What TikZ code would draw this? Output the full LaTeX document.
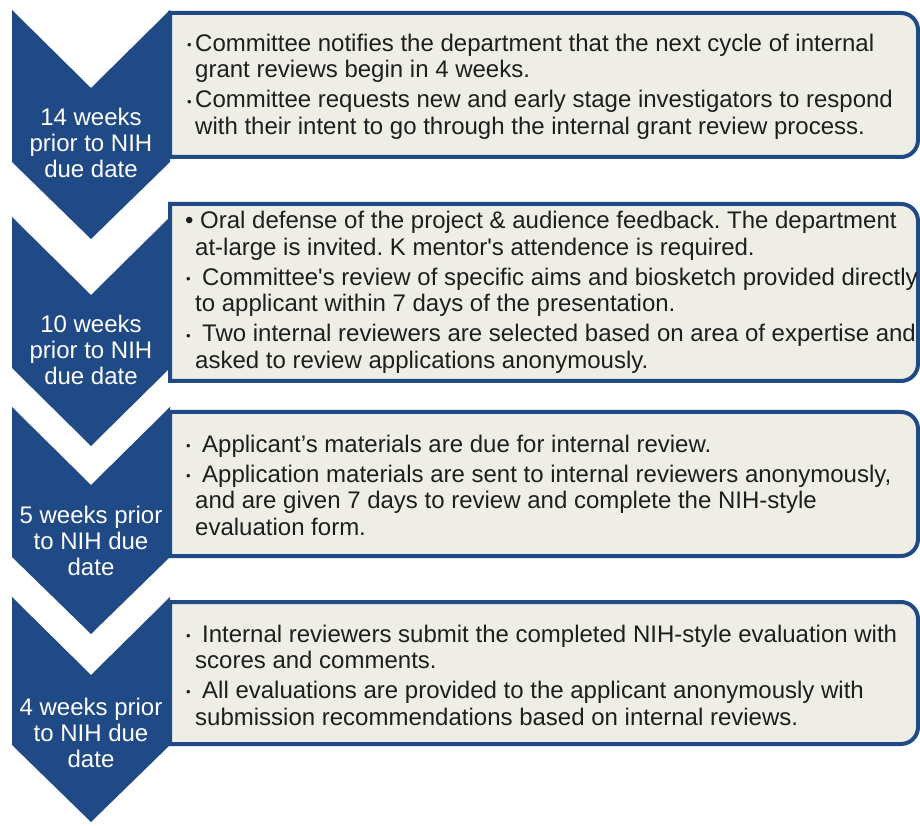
\documentclass[tikz,border=0pt]{standalone}
\usepackage{fontspec}
\setmainfont{Liberation Sans}

\definecolor{navyblue}{RGB}{31,74,134}
\definecolor{cardfill}{RGB}{239,238,230}
\definecolor{inkdark}{RGB}{30,30,30}

% bullets: a large one, a small dot followed by a space, and a tight small dot
\newcommand{\smalldot}{\raisebox{1.6pt}{\fontsize{13}{13}\selectfont\char"2022}}
\newcommand{\bigbul}{\llap{\char"2022\hspace{1.8pt}}\hspace*{5pt}}
\newcommand{\dotsp}{\llap{\smalldot\hspace{4.5pt}}\hspace*{7pt}}
\newcommand{\dottight}{\llap{\smalldot\hspace{3.5pt}}}

\begin{document}
\frenchspacing
\begin{tikzpicture}[x=1pt,y=1pt,
  chev/.style={fill=navyblue},
  card/.style={draw=navyblue, line width=4pt, fill=cardfill, line join=miter},
  steplabel/.style={text=white, align=center, inner sep=0pt,
    font=\fontsize{24}{26}\selectfont},
  notes/.style={anchor=west, align=left, inner sep=0pt, text=inkdark,
    font=\fontsize{24}{26.5}\selectfont}]
\useasboundingbox (0,0) rectangle (920,825);

% cards: square on the left, rounded on the right
\newcommand{\cardpath}[2]{%
  \path[card] (170,#1) -- (901,#1) arc[start angle=90,end angle=0,radius=17pt]
    -- (918,#2+17) arc[start angle=0,end angle=-90,radius=17pt]
    -- (170,#2) -- cycle;}
\cardpath{812}{668}
\cardpath{621}{444}
\cardpath{413}{269}
\cardpath{223}{81}

% chevrons pointing down
\path[chev] (12,815) -- (91,737) -- (170,815) -- (170,663) -- (91,586) -- (12,663) -- cycle;
\path[chev] (12,608) -- (91,530) -- (170,608) -- (170,457) -- (91,379) -- (12,457) -- cycle;
\path[chev] (12,418) -- (91,340) -- (170,418) -- (170,268) -- (91,191) -- (12,268) -- cycle;
\path[chev] (12,228) -- (91,150) -- (170,228) -- (170,80) -- (91,3) -- (12,80) -- cycle;

% time labels
\node[steplabel] (w14) at (91,682) {14 weeks\\prior to NIH\\due date};
\node[steplabel] (w10) at (91,475) {10 weeks\\prior to NIH\\due date};
\node[steplabel] (w5) at (91,284) {5 weeks prior\\to NIH due\\date};
\node[steplabel] (w4) at (91,92) {4 weeks prior\\to NIH due\\date};

% card texts
\node[notes] (n14) at (195,738.5) {%
  \dottight Committee notifies the department that the next cycle of internal\\
  grant reviews begin in 4 weeks.\\[3.5pt]
  \dottight Committee requests new and early stage investigators to respond\\
  with their intent to go through the internal grant review process.};

\node[notes] (n10) at (195,532.5) {%
  \bigbul Oral defense of the project \& audience feedback. The department\\
  at-large is invited. K mentor\textquotesingle s attendence is required.\\[3.5pt]
  \dotsp Committee\textquotesingle s review of specific aims and biosketch provided directly\\
  to applicant within 7 days of the presentation.\\[3.5pt]
  \dotsp Two internal reviewers are selected based on area of expertise and\\
  asked to review applications anonymously.};

\node[notes] (n5) at (195,340) {%
  \dotsp Applicant’s materials are due for internal review.\\[3.5pt]
  \dotsp Application materials are sent to internal reviewers anonymously,\\
  and are given 7 days to review and complete the NIH-style\\
  evaluation form.};

\node[notes] (n4) at (195,150) {%
  \dotsp Internal reviewers submit the completed NIH-style evaluation with\\
  scores and comments.\\[3.5pt]
  \dotsp All evaluations are provided to the applicant anonymously with\\
  submission recommendations based on internal reviews.};
\end{tikzpicture}
\end{document}
